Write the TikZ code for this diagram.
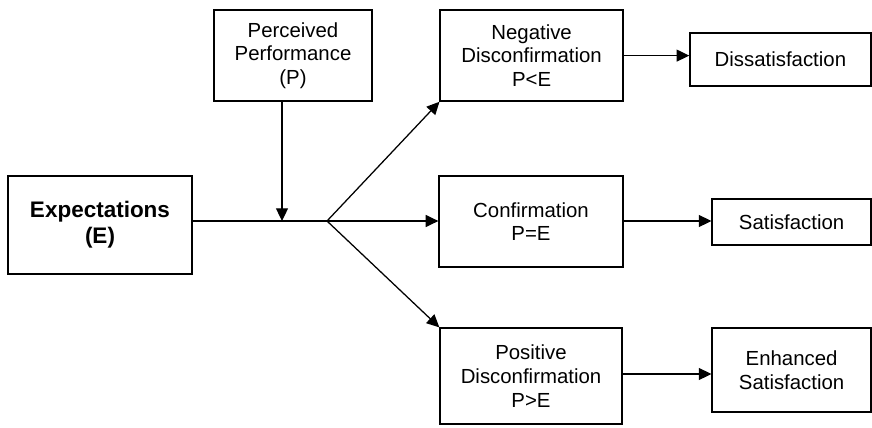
\documentclass[tikz,border=0pt]{standalone}
\usepackage{fontspec}
\setmainfont{Liberation Sans}
\usetikzlibrary{arrows.meta, positioning, calc}

\begin{document}
\begin{tikzpicture}[
  box/.style={
    draw, line width=0.9pt,
    font=\fontsize{14.5}{16.8}\selectfont,
    align=center, inner sep=2pt
  },
  arr/.style={-{Triangle[length=9pt,width=8.5pt]}, line width=0.9pt},
  link/.style={line width=0.9pt},
]
\useasboundingbox (0,0) rectangle (21.8,-10.675);

%% === INPUTS ===
\node[box, minimum width=4.6cm, minimum height=2.45cm,
  font=\fontsize{16}{18.5}\selectfont\bfseries] (expect) at (2.5,-5.625)
  {Expectations\\(E)};

\node[box, minimum width=3.95cm, minimum height=2.275cm] (perf) at (7.325,-1.3875)
  {Perceived\\Performance\\(P)};

\coordinate (meet) at (7.05,-5.525);
\coordinate (fork) at (8.175,-5.525);

\draw[link] (expect.east |- fork) -- (fork);
\draw[arr] (perf.south -| meet) -- (meet);

%% === COMPARISON ===
\node[box, minimum width=4.575cm, minimum height=2.275cm] (negdis) at (13.29,-1.39)
  {Negative\\Disconfirmation\\P<E};

\node[box, minimum width=4.6cm, minimum height=2.275cm] (confirm) at (13.275,-5.54)
  {Confirmation\\P=E};

\node[box, minimum width=4.55cm, minimum height=2.4cm] (posdis) at (13.275,-9.4)
  {Positive\\Disconfirmation\\P>E};

\draw[arr] (fork) -- (negdis.south west);
\draw[arr] (fork) -- (confirm.west |- fork);
\draw[arr] (fork) -- (posdis.north west);

%% === OUTCOMES ===
\node[box, minimum width=4.525cm, minimum height=1.325cm] (dissat) at (19.51,-1.49)
  {Dissatisfaction};

\node[box, minimum width=3.975cm, minimum height=1.15cm] (sat) at (19.79,-5.55)
  {Satisfaction};

\node[box, minimum width=3.975cm, minimum height=2.1cm] (enhsat) at (19.79,-9.25)
  {Enhanced\\Satisfaction};

\draw[arr] (negdis.east) -- (negdis.east -| dissat.west);
\draw[arr] (confirm.east |- fork) -- (sat.west |- fork);
\draw[arr] ($(posdis.east)+(0,0.05)$) -- ($(posdis.east -| enhsat.west)+(0,0.05)$);

\end{tikzpicture}
\end{document}
